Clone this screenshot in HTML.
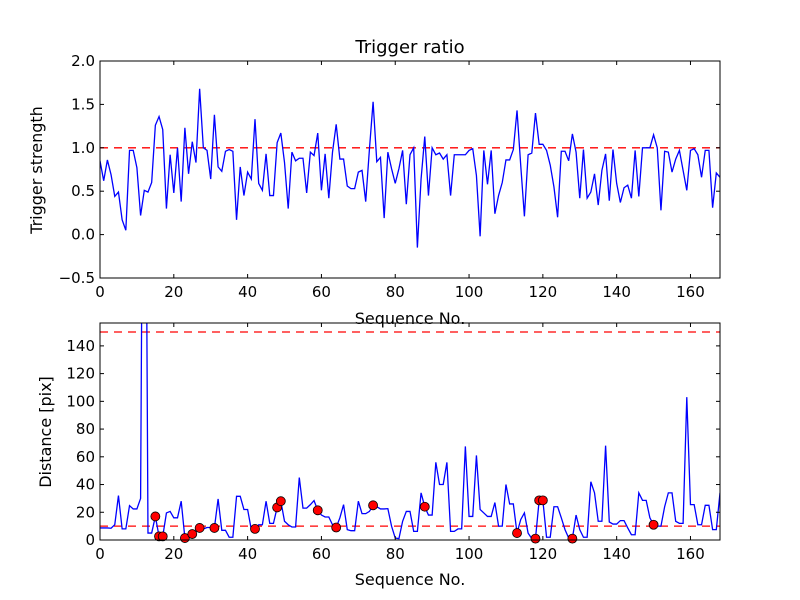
<!DOCTYPE html>
<html><head><meta charset="utf-8"><style>
body{margin:0;background:#fff;}
svg{display:block;font-family:"DejaVu Sans","Liberation Sans",sans-serif;}
</style></head><body>
<svg id="c" width="800" height="600" xmlns="http://www.w3.org/2000/svg">
<defs>
<clipPath id="clipTop"><rect x="100" y="61" width="620" height="217"/></clipPath>
<clipPath id="clipBot"><rect x="100" y="323" width="620" height="217"/></clipPath>
</defs>
<rect width="800" height="600" fill="#fff"/>
</svg>
<script>
const strength = [0.85,0.62,0.86,0.69,0.44,0.49,0.17,0.05,0.97,0.97,0.77,0.22,0.51,0.49,0.6,1.26,1.36,1.21,0.3,0.92,0.48,1.0,0.38,1.23,0.7,1.07,0.83,1.68,1.0,0.97,0.64,1.38,0.78,0.73,0.96,0.98,0.96,0.17,0.78,0.45,0.72,0.64,1.33,0.59,0.51,0.93,0.45,0.45,1.06,1.17,0.83,0.3,0.95,0.85,0.88,0.88,0.48,0.95,0.91,1.17,0.51,0.93,0.42,0.95,1.27,0.87,0.87,0.56,0.53,0.53,0.72,0.74,0.38,0.98,1.53,0.84,0.89,0.19,0.95,0.76,0.59,0.76,0.97,0.35,0.92,1.0,-0.15,0.64,1.13,0.45,1.0,0.92,0.94,0.87,0.92,0.45,0.92,0.92,0.92,0.92,0.97,0.99,0.68,-0.02,0.97,0.58,0.97,0.24,0.45,0.6,0.86,0.86,0.98,1.43,0.8,0.21,0.92,0.94,1.4,1.04,1.04,0.97,0.8,0.55,0.2,0.96,0.96,0.85,1.16,0.95,0.42,0.98,0.42,0.49,0.7,0.34,0.74,0.93,0.39,0.98,0.59,0.37,0.54,0.57,0.42,0.97,0.44,1.0,1.0,1.0,1.15,1.0,0.28,0.96,0.95,0.72,0.87,0.97,0.74,0.51,0.97,0.99,0.92,0.66,0.97,0.97,0.31,0.71,0.66];
const distance = [8.7,8.7,8.7,8.5,11,32,8,8,24.8,22.4,22.4,30,500,5,5,17,2.6,2.6,19.5,20.6,16,16,28,1.4,3,4.3,6,8.7,8,9,9,8.7,29.6,7,7,2,2,31.5,31.5,22,22,7.5,8,11,11,28,12,12,23.5,28,13.5,11,9.4,9.4,45,23,23,25.5,28.4,21.4,18,16.6,16.6,11,9,16,25.5,7.5,6.7,6.7,28,19,19,20.6,25,24,22.4,22.4,22.6,10,1.4,1,13.5,20.6,20.6,6.2,6.2,34,24,18,18,56,40,40,56,6.2,6.2,8,8,67.5,17,17,61,22,19.5,17,17,27,10,10,40,26,26,5,14.7,19.5,5,1,1,28.6,28.6,2,2,24,24,16,7.5,1.4,1,18,7.5,2,2,42,34,13.5,13.5,68,13,11.5,11.5,14,14,8.7,3.8,3.8,34,28.6,28.6,16,11,10,10,24,34,34,13.5,12,12,103,25.5,25.5,11,11,25,25,7.5,7.5,34];
const markIdx = [15,16,17,23,25,27,31,42,48,49,59,64,74,88,113,118,119,120,128,150];
const markVal = [17,2.6,2.6,1.4,4.3,8.7,8.7,8,23.5,28,21.4,9,25,24,5,1,28.6,28.6,1,11];
const xTicks = [0,20,40,60,80,100,120,140,160];
const topYTicks = [-0.5,0.0,0.5,1.0,1.5,2.0];
const botYTicks = [0,20,40,60,80,100,120,140];
const topThreshold = [1.0];
const botThresholds = [10,150];

const svg = document.getElementById('c');
const NS = 'http://www.w3.org/2000/svg';
const L = 100, R = 720;
const T1 = 61, B1 = 278, T2 = 323, B2 = 540;
const xMax = 168, y1Min = -0.5, y1Max = 2.0, y2Min = 0, y2Max = 156.5;
const xS = v => L + v / xMax * (R - L);
const y1S = v => B1 - (v - y1Min) / (y1Max - y1Min) * (B1 - T1);
const y2S = v => B2 - (v - y2Min) / (y2Max - y2Min) * (B2 - T2);
function mk(tag, attrs, parent) {
  const e = document.createElementNS(NS, tag);
  for (const k in attrs) e.setAttribute(k, attrs[k]);
  (parent || svg).appendChild(e);
  return e;
}
function txt(s, x, y, anchor, size, parent) {
  const t = mk('text', {x: x, y: y, 'text-anchor': anchor, 'font-size': size, fill: '#000'}, parent);
  t.textContent = s;
  return t;
}
function axes(top, bot, yS, yTicks, fmt, name) {
  const g = mk('g', {});
  
  
  xTicks.forEach(v => {
    const x = xS(v);
    mk('line', {x1: x, x2: x, y1: bot, y2: bot - 4, stroke: '#000'}, g);
    mk('line', {x1: x, x2: x, y1: top, y2: top + 4, stroke: '#000'}, g);
    const t = txt(String(v), x, bot + 19, 'middle', 15, g);
    
    
  });
  yTicks.forEach(v => {
    const y = yS(v);
    mk('line', {x1: L, x2: L + 4, y1: y, y2: y, stroke: '#000'}, g);
    mk('line', {x1: R, x2: R - 4, y1: y, y2: y, stroke: '#000'}, g);
    const t = txt(fmt(v), L - 5, y + 5, 'end', 15, g);
    
    
  });
  mk('rect', {x: L, y: top, width: R - L, height: bot - top, fill: 'none', stroke: '#000', 'stroke-width': 1}, g);
}
const gTop = mk('g', {'clip-path': 'url(#clipTop)'});


topThreshold.forEach(v => {
  const l = mk('line', {x1: L, x2: R, y1: y1S(v), y2: y1S(v), stroke: '#f00', 'stroke-width': 1.3, 'stroke-dasharray': '8,6'}, gTop);
  
  
});
const p1 = mk('polyline', {points: strength.map((v, i) => xS(i) + ',' + y1S(v)).join(' '), fill: 'none', stroke: '#00f', 'stroke-width': 1.3}, gTop);


axes(T1, B1, y1S, topYTicks, v => v.toFixed(1).replace('-', '\u2212'), 'top-axes');
const gBot = mk('g', {'clip-path': 'url(#clipBot)'});


botThresholds.forEach(v => {
  const l = mk('line', {x1: L, x2: R, y1: y2S(v), y2: y2S(v), stroke: '#f00', 'stroke-width': 1.3, 'stroke-dasharray': '8,6'}, gBot);
  
  
});
const p2 = mk('polyline', {points: distance.map((v, i) => xS(i) + ',' + y2S(v)).join(' '), fill: 'none', stroke: '#00f', 'stroke-width': 1.3}, gBot);


markIdx.forEach((idx, k) => {
  const c = mk('circle', {cx: xS(idx), cy: y2S(markVal[k]), r: 4.5, fill: '#f00', stroke: '#000', 'stroke-width': 0.8});
  
  
});
axes(T2, B2, y2S, botYTicks, v => String(v), 'bottom-axes');
let t;
t = txt('Trigger ratio', 410, 53, 'middle', 18);


t = txt('Sequence No.', 410, 324, 'middle', 16);


t = txt('Sequence No.', 410, 585, 'middle', 16);


t = txt('Trigger strength', 0, 0, 'middle', 16);
t.setAttribute('transform', 'translate(42,170) rotate(-90)');


t = txt('Distance [pix]', 0, 0, 'middle', 16);
t.setAttribute('transform', 'translate(51,432) rotate(-90)');


</script>
</body></html>
